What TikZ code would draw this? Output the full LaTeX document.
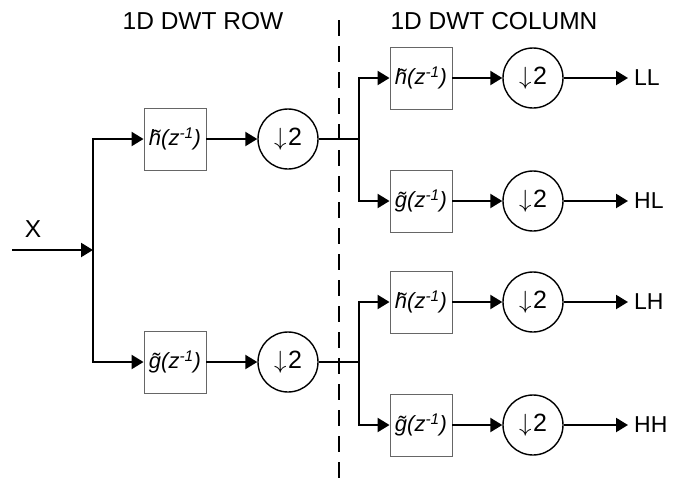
\documentclass[tikz,border=0pt]{standalone}
\usepackage{fontspec}
\setmainfont{Liberation Sans}
\usetikzlibrary{arrows.meta}
\newcommand{\htil}{\textit{h\char"0303(z\textsuperscript{-1})}}
\newcommand{\gtil}{\textit{g\char"0303(z\textsuperscript{-1})}}
\newcommand{\dsmp}{$\downarrow$\kern1.5pt2}
\tikzset{
  filt/.style={draw=black!60, line width=0.9pt, minimum width=62pt, minimum height=62pt, inner sep=0pt, font=\fontsize{22}{25}\selectfont},
  dsc/.style={circle, draw=black, line width=1.4pt, minimum size=60pt, inner sep=0pt, font=\fontsize{25}{28}\selectfont},
  wire/.style={line width=2.2pt, black},
  arr/.style={wire, -{Triangle[length=12pt,width=14pt]}},
  outlbl/.style={anchor=west, inner xsep=6pt, inner ysep=0pt, font=\fontsize{23}{26}\selectfont},
  hdr/.style={font=\fontsize{24.5}{28}\selectfont}
}
\begin{document}
\begin{tikzpicture}[x=1pt,y=-1pt]
\useasboundingbox (0,0) rectangle (674,485);
% headers
\node[hdr] (hrow) at (203,21) {1D DWT ROW};
\node[hdr] (hcol) at (494,21) {1D DWT COLUMN};
% dashed separator
\coordinate (dtop) at (339,20);
\coordinate (dbot) at (339,485);
\draw[line width=2.5pt, dash pattern=on 16pt off 10pt] (dtop) -- (dbot);
% input
\coordinate (in) at (12,250);
\coordinate (j0) at (93,250);
\node[hdr] (xl) at (33,229) {X};
\draw[arr] (in) -- (j0);
% row stage
\node[filt] (h1) at (175,139) {\htil};
\node[filt] (g1) at (175,362) {\gtil};
\node[dsc] (d1) at (288,139) {\dsmp};
\node[dsc] (d1b) at (288,362) {\dsmp};
\draw[arr] (j0) |- (h1);
\draw[arr] (j0) |- (g1);
\draw[arr] (h1) -- (d1);
\draw[arr] (g1) -- (d1b);
\coordinate (j1) at (359,139);
\coordinate (j2) at (359,362);
\draw[wire] (d1) -- (j1);
\draw[wire] (d1b) -- (j2);
% column stage
\node[filt] (h2) at (421,78) {\htil};
\node[filt] (g2) at (421,201) {\gtil};
\node[filt] (h3) at (421,302) {\htil};
\node[filt] (g3) at (421,425) {\gtil};
\node[dsc] (d2) at (533,78) {\dsmp};
\node[dsc] (d3) at (533,201) {\dsmp};
\node[dsc] (d4) at (533,302) {\dsmp};
\node[dsc] (d5) at (533,425) {\dsmp};
\draw[arr] (j1) |- (h2);
\draw[arr] (j1) |- (g2);
\draw[arr] (j2) |- (h3);
\draw[arr] (j2) |- (g3);
\draw[arr] (h2) -- (d2);
\draw[arr] (g2) -- (d3);
\draw[arr] (h3) -- (d4);
\draw[arr] (g3) -- (d5);
\node[outlbl] (LL) at (628,78) {LL};
\node[outlbl] (HL) at (628,201) {HL};
\node[outlbl] (LH) at (628,302) {LH};
\node[outlbl] (HH) at (628,425) {HH};
\draw[arr] (d2) -- (LL);
\draw[arr] (d3) -- (HL);
\draw[arr] (d4) -- (LH);
\draw[arr] (d5) -- (HH);
\end{tikzpicture}
\end{document}
